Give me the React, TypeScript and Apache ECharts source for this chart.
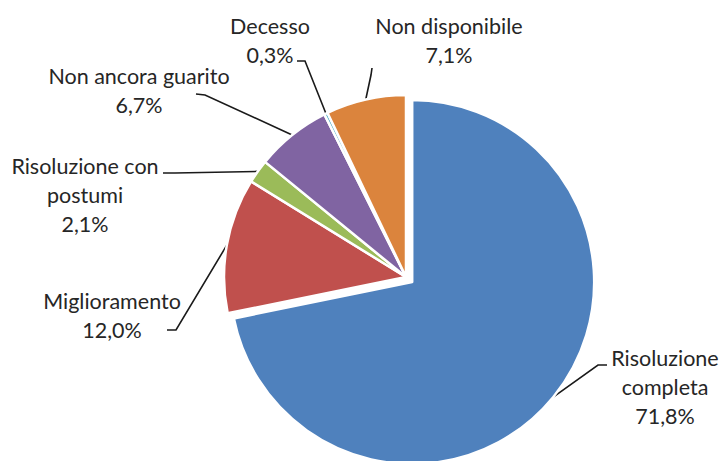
import React, { useEffect, useRef } from "react";
import * as echarts from "echarts";

const categories = [
  "Risoluzione\ncompleta",
  "Miglioramento",
  "Risoluzione con\npostumi",
  "Non ancora guarito",
  "Decesso",
  "Non disponibile",
];
const values = [71.8, 12.0, 2.1, 6.7, 0.3, 7.1];
const colors = ["#4F81BD", "#C0504D", "#9BBB59", "#8064A2", "#4BACC6", "#DB843D"];
const explodedIndex = 0;

// layout of label boxes (centers) and leader-line elbows
const labelCenters: number[][] = [
  [665, 387],
  [112, 315],
  [85, 195],
  [139, 90],
  [270, 40],
  [449, 40],
];
const lineElbows: number[][][] = [
  [[598, 365], [607, 365]],
  [[176, 330], [167, 330]],
  [[175, 173], [163, 173]],
  [[205, 95], [196, 94]],
  [[305, 61], [297, 61]],
  [[371, 75], [372, 68]],
];

const pieCenter = [406, 277];
const explodeOffset = 8;
const radius = 182;

export default function App() {
  const ref = useRef<HTMLDivElement>(null);
  useEffect(() => {
    if (!ref.current) return;
    const chart = echarts.init(ref.current, null, { renderer: "svg" });

    // offset of exploded slice along its mid angle
    const total = values.reduce((a, b) => a + b, 0);
    let before = 0;
    for (let i = 0; i < explodedIndex; i++) before += values[i];
    const midFrac = (before + values[explodedIndex] / 2) / total;
    const ang = midFrac * Math.PI * 2;
    const explodedCenter = [
      pieCenter[0] + explodeOffset * Math.sin(ang),
      pieCenter[1] - explodeOffset * Math.cos(ang),
    ];

    const hidden = {
      itemStyle: { color: "transparent", borderWidth: 0 },
      label: { show: false },
      labelLine: { show: false },
    };

    const common = {
      type: "pie",
      radius,
      startAngle: 90,
      clockwise: true,
      silent: true,
      avoidLabelOverlap: false,
      itemStyle: { borderColor: "#ffffff", borderWidth: 2.5 },
      label: {
        show: true,
        position: "outside",
        fontFamily: "Lato",
        fontSize: 21.5,
        lineHeight: 29,
        color: "#262626",
        align: "center",
        formatter: (p: any) =>
          `${p.name}\n${Number(p.value).toFixed(1).replace(".", ",")}%`,
      },
      labelLine: {
        show: true,
        length: 10,
        length2: 10,
        lineStyle: { color: "#1a1a1a", width: 1.6 },
      },
      labelLayout: (params: any) => {
        const i = params.dataIndex;
        const c = labelCenters[i];
        const pts = params.labelLinePoints;
        const res: any = {
          x: c[0],
          y: c[1],
          align: "center",
          verticalAlign: "middle",
        };
        if (pts && pts[0]) {
          res.labelLinePoints = [pts[0], lineElbows[i][0], lineElbows[i][1]];
        }
        return res;
      },
      emphasis: { disabled: true },
    };

    chart.setOption({
      animation: false,
      backgroundColor: "#ffffff",
      series: [
        {
          ...common,
          center: pieCenter,
          data: categories.map((name, i) =>
            i === explodedIndex
              ? { name, value: values[i], ...hidden }
              : { name, value: values[i], itemStyle: { color: colors[i] } }
          ),
        },
        {
          ...common,
          center: explodedCenter,
          data: categories.map((name, i) =>
            i === explodedIndex
              ? { name, value: values[i], itemStyle: { color: colors[i] } }
              : { name, value: values[i], ...hidden }
          ),
        },
      ],
    });
    return () => chart.dispose();
  }, []);
  return (
    <div
      ref={ref}
      style={{ position: "absolute", left: 0, top: 0, width: 722, height: 461 }}
    />
  );
}
